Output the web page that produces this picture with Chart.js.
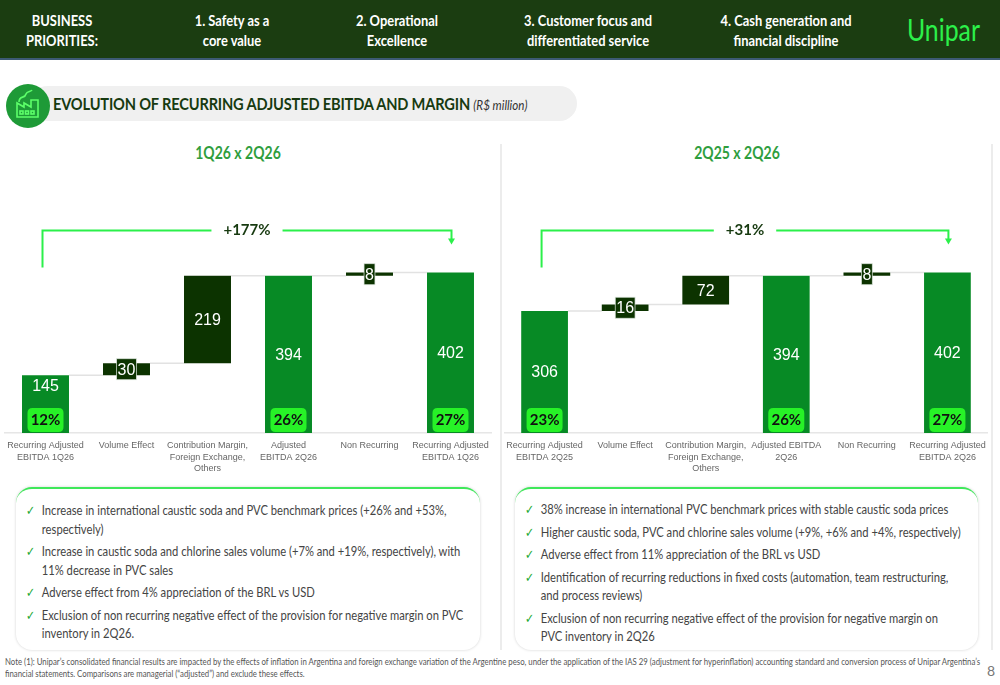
<!DOCTYPE html>
<html><head><meta charset="utf-8">
<script src="https://cdn.jsdelivr.net/npm/chart.js@4.4.1/dist/chart.umd.min.js"></script>
<style>
body{margin:0;width:1000px;height:685px;position:relative;background:#fff;font-family:Lato,sans-serif;overflow:hidden}
.hdr{position:absolute;left:0;top:0;width:1000px;height:58px;background:#1b3d11;border-bottom:2px solid #3d5a74}
.hi{position:absolute;top:10px;color:#fff;font-weight:bold;font-size:15px;line-height:20px;text-align:center;white-space:nowrap;transform:translateX(-50%) scaleX(0.86)}
.logo{position:absolute;left:907px;top:10px;color:#2cf04a;font-size:31px;white-space:nowrap;transform:scaleX(0.8);transform-origin:left top}
.pill{position:absolute;left:30px;top:86px;width:547px;height:35px;background:#f0f0f0;border-radius:18px}
.ttl{position:absolute;left:53px;top:93px;font-weight:bold;font-size:17px;color:#173a10;white-space:nowrap;letter-spacing:-0.2px;transform:scaleX(0.86);transform-origin:left top}
.ttl i{font-weight:normal;font-size:13.5px;color:#333;letter-spacing:0}
.sub{position:absolute;top:143px;font-weight:bold;font-size:16.5px;color:#2f9e3e;transform:translateX(-50%) scaleX(0.85);white-space:nowrap}
.vline{position:absolute;top:144px;width:2px;height:506px;background:#ececec}
.cw{position:absolute}
.box{position:absolute;top:487px;height:161px;border-radius:16px;box-shadow:0 0 3px rgba(0,0,0,0.18);border-top:2px solid #3fe85a;background:#fff}
.box ul{list-style:none;margin:0;padding:0;position:absolute;font-size:13.5px;color:#444;line-height:18.5px;transform:scaleX(0.83);transform-origin:left top}
.box li{position:relative;padding-left:19px;margin-bottom:4px;white-space:nowrap}
.box li:before{content:"\2713";position:absolute;left:0;top:0;color:#21a832;font-size:13px}
.note{position:absolute;left:5px;top:655px;font-size:10px;color:#555;line-height:12px;white-space:nowrap;transform:scaleX(0.78);transform-origin:left top}
.pg{position:absolute;left:987px;top:662px;font-size:14px;color:#777}
</style></head><body>
<div class="hdr"></div>
<div class="hi" style="left:62px">BUSINESS<br>PRIORITIES:</div>
<div class="hi" style="left:232px">1. Safety as a<br>core value</div>
<div class="hi" style="left:397px">2. Operational<br>Excellence</div>
<div class="hi" style="left:588px">3. Customer focus and<br>differentiated service</div>
<div class="hi" style="left:786px">4. Cash generation and<br>financial discipline</div>
<div class="logo">Unipar</div>

<div class="pill"></div>
<svg style="position:absolute;left:5px;top:83px" width="46" height="46" viewBox="0 0 46 46">
<circle cx="23" cy="23" r="22" fill="#1e9a37"/>
<g fill="none" stroke="#5dff6a" stroke-width="1.6">
<path d="M12 34 V20 L19 24 V20 L26 24 V17 L33 17 V34 Z"/>
<path d="M14 19 C14 12 20 16 21 11 C22 8 26 9 27 7"/>
<rect x="15" y="28" width="3" height="3"/><rect x="20.5" y="28" width="3" height="3"/><rect x="26" y="28" width="3" height="3"/>
</g></svg>
<div class="ttl">EVOLUTION OF RECURRING ADJUSTED EBITDA AND MARGIN <i>(R$ million)</i></div>

<div class="sub" style="left:238px">1Q26 x 2Q26</div>
<div class="sub" style="left:737px">2Q25 x 2Q26</div>
<div class="vline" style="left:500px"></div>
<div class="vline" style="left:991px"></div>

<div class="cw" style="left:0;top:180px;width:497px;height:301px"><canvas id="c1"></canvas></div>
<div class="cw" style="left:500px;top:180px;width:492px;height:301px"><canvas id="c2"></canvas></div>

<div class="box" style="left:16px;width:464px">
<ul style="top:12px;left:10px">
<li>Increase in international caustic soda and PVC benchmark prices (+26% and +53%,<br>respectively)</li>
<li>Increase in caustic soda and chlorine sales volume (+7% and +19%, respectively), with<br>11% decrease in PVC sales</li>
<li>Adverse effect from 4% appreciation of the BRL vs USD</li>
<li>Exclusion of non recurring negative effect of the provision for negative margin on PVC<br>inventory in 2Q26.</li>
</ul></div>
<div class="box" style="left:515px;width:463px">
<ul style="top:11px;left:10px">
<li>38% increase in international PVC benchmark prices with stable caustic soda prices</li>
<li>Higher caustic soda, PVC and chlorine sales volume (+9%, +6% and +4%, respectively)</li>
<li>Adverse effect from 11% appreciation of the BRL vs USD</li>
<li>Identification of recurring reductions in fixed costs (automation, team restructuring,<br>and process reviews)</li>
<li>Exclusion of non recurring negative effect of the provision for negative margin on<br>PVC inventory in 2Q26</li>
</ul></div>

<div class="note">Note (1): Unipar’s consolidated financial results are impacted by the effects of inflation in Argentina and foreign exchange variation of the Argentine peso, under the application of the IAS 29 (adjustment for hyperinflation) accounting standard and conversion process of Unipar Argentina’s<br>financial statements. Comparisons are managerial (“adjusted”) and exclude these effects.</div>
<div class="pg">8</div>

<script>
// ---- data ----
const leftCategories = [["Recurring Adjusted","EBITDA 1Q26"],"Volume Effect",["Contribution Margin,","Foreign Exchange,","Others"],["Adjusted","EBITDA 2Q26"],"Non Recurring",["Recurring Adjusted","EBITDA 1Q26"]];
const leftValues = [145, 30, 219, 394, 8, 402];
const leftKinds = ["total","delta","delta","total","delta","total"];
const leftMargins = ["12%", null, null, "26%", null, "27%"];
const leftGrowth = "+177%";

const rightCategories = [["Recurring Adjusted","EBITDA 2Q25"],"Volume Effect",["Contribution Margin,","Foreign Exchange,","Others"],["Adjusted EBITDA","2Q26"],"Non Recurring",["Recurring Adjusted","EBITDA 2Q26"]];
const rightValues = [306, 16, 72, 394, 8, 402];
const rightKinds = ["total","delta","delta","total","delta","total"];
const rightMargins = ["23%", null, null, "26%", null, "27%"];
const rightGrowth = "+31%";

const TOTAL_COLOR = "#078a25";
const DELTA_COLOR = "#0c3300";

function ranges(values, kinds){
  let run = 0; const out = [];
  values.forEach((v,i)=>{
    if(kinds[i]==="total"){ out.push([0,v]); run=v; }
    else { out.push([run, run+v]); run+=v; }
  });
  return out;
}

function rr(ctx,x,y,w,h,r){
  ctx.beginPath();
  ctx.moveTo(x+r,y);ctx.lineTo(x+w-r,y);ctx.quadraticCurveTo(x+w,y,x+w,y+r);
  ctx.lineTo(x+w,y+h-r);ctx.quadraticCurveTo(x+w,y+h,x+w-r,y+h);
  ctx.lineTo(x+r,y+h);ctx.quadraticCurveTo(x,y+h,x,y+h-r);
  ctx.lineTo(x,y+r);ctx.quadraticCurveTo(x,y,x+r,y);ctx.closePath();
}

function makeChart(id, cats, values, kinds, margins, growth, padL, padR){
  const data = ranges(values, kinds);
  const deco = {
    id:'deco'+id,
    beforeDatasetsDraw(chart){
      const ctx=chart.ctx, y=chart.scales.y, bars=chart.getDatasetMeta(0).data;
      ctx.save(); ctx.strokeStyle="#e2e2e2"; ctx.lineWidth=1.5;
      for(let i=0;i<bars.length-1;i++){
        const py = y.getPixelForValue(data[i][1]);
        ctx.beginPath();
        ctx.moveTo(bars[i].x+bars[i].width/2, py);
        ctx.lineTo(bars[i+1].x-bars[i+1].width/2, py);
        ctx.stroke();
      }
      ctx.restore();
    },
    afterDatasetsDraw(chart){
      const ctx=chart.ctx, y=chart.scales.y, bars=chart.getDatasetMeta(0).data;
      const base = y.getPixelForValue(0);
      ctx.save();
      ctx.textAlign="center"; ctx.textBaseline="middle";
      bars.forEach((b,i)=>{
        const top=y.getPixelForValue(data[i][1]), bot=y.getPixelForValue(data[i][0]);
        const h = bot-top;
        let cy = (top+bot)/2;
        ctx.font="16px 'Liberation Sans', Arial, sans-serif";
        const txt = String(values[i]);
        if(margins[i]) cy = Math.min(cy, base-47);
        if(h < 22){
          const tw = ctx.measureText(txt).width;
          ctx.fillStyle=DELTA_COLOR;
          ctx.fillRect(b.x-tw/2-1, cy-10.5, tw+2, 21);
          ctx.strokeStyle="rgba(220,230,220,0.9)"; ctx.lineWidth=0.8;
          ctx.strokeRect(b.x-tw/2-1, cy-10.5, tw+2, 21);
        }
        ctx.fillStyle="#fff";
        ctx.fillText(txt, b.x, cy+1);
        if(margins[i]){
          const bw=36,bh=24;
          ctx.fillStyle="#27f227";
          rr(ctx,b.x-bw/2,base-bh-1,bw,bh,5); ctx.fill();
          ctx.fillStyle="#111"; ctx.font="bold 15px Lato, sans-serif";
          ctx.fillText(margins[i], b.x, base-bh/2-0.5);
        }
      });
      // growth bracket
      const maxV = Math.max(...values);
      const pm = y.getPixelForValue(maxV);
      const x0 = bars[0].x-3, x1 = bars[bars.length-1].x+1;
      const ty = pm-42;
      ctx.font="bold 15px Lato, sans-serif";
      const gw = ctx.measureText(growth).width;
      const gx = (x0+x1)/2;
      ctx.strokeStyle="#2bf04a"; ctx.lineWidth=2;
      ctx.beginPath(); ctx.moveTo(x0,pm-5); ctx.lineTo(x0,ty); ctx.lineTo(gx-gw/2-12,ty); ctx.stroke();
      ctx.beginPath(); ctx.moveTo(gx+gw/2+12,ty); ctx.lineTo(x1,ty); ctx.lineTo(x1,pm-32); ctx.stroke();
      ctx.fillStyle="#2bf04a";
      ctx.beginPath(); ctx.moveTo(x1-3.5,pm-34); ctx.lineTo(x1+3.5,pm-34); ctx.lineTo(x1,pm-28); ctx.closePath(); ctx.fill();
      ctx.fillStyle="#173a10";
      ctx.fillText(growth, gx, ty);
      ctx.restore();
    }
  };
  return new Chart(document.getElementById(id),{
    type:'bar',
    data:{labels:cats,datasets:[{data:data,
      backgroundColor:kinds.map(k=>k==="total"?TOTAL_COLOR:DELTA_COLOR),
      borderWidth:0,barPercentage:0.58,categoryPercentage:1}]},
    options:{responsive:true,maintainAspectRatio:false,animation:false,
      layout:{padding:{left:padL,right:padR,top:0,bottom:0}},
      plugins:{legend:{display:false},tooltip:{enabled:false}},
      scales:{
        x:{grid:{display:false,drawTicks:false},border:{color:"#e6e6e6",width:1.5},
           ticks:{color:"#666",font:{family:"'Liberation Sans', Arial, sans-serif",size:9,lineHeight:1.33},maxRotation:0,autoSkip:false,padding:6}},
        y:{display:false,min:0,max:634}
      }},
    plugins:[deco]
  });
}
makeChart('c1', leftCategories, leftValues, leftKinds, leftMargins, leftGrowth, 5, 6);
makeChart('c2', rightCategories, rightValues, rightKinds, rightMargins, rightGrowth, 4, 4);
</script>
</body></html>
